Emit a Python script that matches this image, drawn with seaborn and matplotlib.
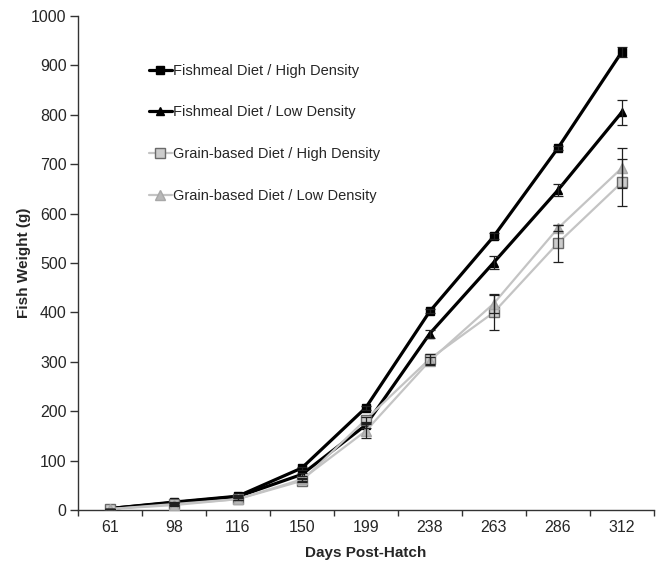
import numpy as np
import pandas as pd
import seaborn as sns
import matplotlib.pyplot as plt
from matplotlib.ticker import FixedLocator

sns.set_style("ticks")
plt.rcParams["font.family"] = ["Liberation Sans", "DejaVu Sans"]

days = ["61", "98", "116", "150", "199", "238", "263", "286", "312"]

fishmeal_high = [3, 16, 28, 85, 207, 402, 554, 732, 927]
fishmeal_low = [3, 15, 27, 72, 172, 357, 501, 647, 805]
grain_high = [2, 12, 22, 59, 183, 306, 400, 540, 663]
grain_low = [2, 10, 22, 62, 160, 302, 418, 570, 692]

fishmeal_high_err = [0, 1, 2, 3, 4, 4, 6, 4, 10]
fishmeal_low_err = [0, 1, 1, 3, 5, 8, 13, 12, 25]
grain_high_err = [0, 1, 2, 3, 5, 10, 35, 37, 47]
grain_low_err = [0, 1, 2, 3, 14, 8, 20, 6, 40]

series = [
    ("Fishmeal Diet / High Density", fishmeal_high, fishmeal_high_err,
     "black", "s", "black", "black", 2.3, 5.5),
    ("Fishmeal Diet / Low Density", fishmeal_low, fishmeal_low_err,
     "black", "^", "black", "black", 2.3, 6),
    ("Grain-based Diet / High Density", grain_high, grain_high_err,
     "#c4c4c4", "s", "#cccccc", "#6a6a6a", 1.6, 6.5),
    ("Grain-based Diet / Low Density", grain_low, grain_low_err,
     "#c4c4c4", "^", "#b8b8b8", "#a8a8a8", 1.6, 6.5),
]

fig = plt.figure(figsize=(6.65, 5.62), dpi=100)
ax = fig.add_axes([0.117, 0.0925, 0.866, 0.879])

x = np.arange(len(days))
for label, vals, err, color, marker, face, edge, lw, ms in series:
    df = pd.DataFrame({"x": x, "y": vals})
    sns.lineplot(
        data=df, x="x", y="y", ax=ax, color=color, lw=lw, marker=marker,
        markersize=ms, markerfacecolor=face, markeredgecolor=edge,
        markeredgewidth=1, label=label, zorder=3,
    )
    ax.errorbar(x, vals, yerr=err, fmt="none", ecolor="#202020",
                elinewidth=0.9, capsize=3.5, capthick=0.9, zorder=4)

ax.set_xlim(-0.5, len(days) - 0.5)
ax.set_ylim(0, 1000)
ax.set_yticks(range(0, 1001, 100))

# ticks at category boundaries, labels centred
ax.xaxis.set_major_locator(FixedLocator(np.arange(-0.5, len(days), 1.0)))
ax.xaxis.set_major_formatter(plt.NullFormatter())
ax.xaxis.set_minor_locator(FixedLocator(x))
ax.set_xticklabels(days, minor=True)
ax.tick_params(axis="x", which="major", length=4, width=1, direction="out",
               color="#333333")
ax.tick_params(axis="x", which="minor", length=0, pad=7, labelsize=11.5)
ax.tick_params(axis="y", length=6, width=1, direction="out", labelsize=11.5,
               pad=2, color="#333333")

for side in ("top", "right"):
    ax.spines[side].set_visible(False)
for side in ("left", "bottom"):
    ax.spines[side].set_color("#333333")
    ax.spines[side].set_linewidth(1)

ax.set_xlabel("Days Post-Hatch", fontsize=11, fontweight="bold", labelpad=8)
ax.set_ylabel("Fish Weight (g)", fontsize=11, fontweight="bold")
ax.yaxis.set_label_coords(-0.082, 0.5)

ax.legend(
    loc="upper left", bbox_to_anchor=(0.1, 0.93), frameon=False,
    fontsize=10.5, labelspacing=1.9, handlelength=1.6, handletextpad=0.1,
)

fig.savefig("out.png", dpi=100)
